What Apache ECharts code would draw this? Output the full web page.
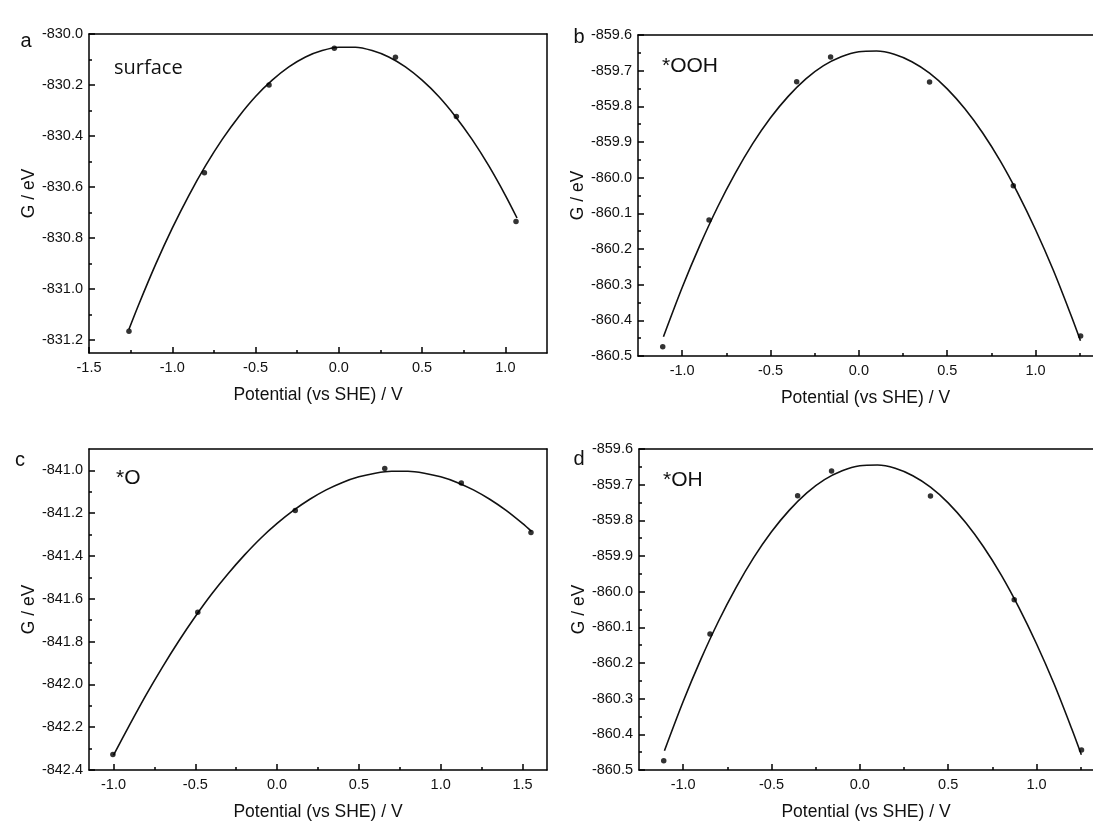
<!DOCTYPE html>
<html><head><meta charset="utf-8">
<script src="https://cdn.jsdelivr.net/npm/echarts@6/dist/echarts.min.js"></script>
<style>html,body{margin:0;padding:0;background:#fff}#c{width:1093px;height:830px}</style>
</head><body><div id="c"></div>
<script>
// ---------- Panel a : surface ----------
const surfPointsX = [-1.26, -0.807, -0.419, -0.027, 0.340, 0.706, 1.064];
const surfPointsG = [-831.165, -830.544, -830.200, -830.056, -830.091, -830.323, -830.735];
const surfFitX = [-1.26, -1.2, -1.1, -1.0, -0.9, -0.8, -0.7, -0.6, -0.5, -0.4, -0.3, -0.2, -0.1, 0.0, 0.1, 0.2, 0.3, 0.4, 0.5, 0.6, 0.7, 0.8, 0.9, 1.0, 1.07];
const surfFitG = [-831.157, -831.058, -830.903, -830.761, -830.632, -830.516, -830.413, -830.323, -830.245, -830.181, -830.129, -830.090, -830.065, -830.052, -830.052, -830.065, -830.090, -830.129, -830.181, -830.245, -830.323, -830.413, -830.516, -830.632, -830.721];
const xLabelsA = [-1.5, -1.0, -0.5, 0.0, 0.5, 1.0];
const xMinorA = [-1.25, -0.75, -0.25, 0.25, 0.75];
const yLabelsA = [-831.2, -831.0, -830.8, -830.6, -830.4, -830.2, -830.0];
const yMinorA = [-831.1, -830.9, -830.7, -830.5, -830.3, -830.1];

// ---------- Panel b : *OOH ----------
const oohPointsX = [-1.11, -0.848, -0.352, -0.16, 0.40, 0.874, 1.255];
const oohPointsG = [-860.474, -860.119, -859.731, -859.662, -859.732, -860.023, -860.444];
const oohFitX = [-1.106, -1.0, -0.9, -0.8, -0.7, -0.6, -0.5, -0.4, -0.3, -0.2, -0.1, 0.0, 0.1, 0.2, 0.3, 0.4, 0.5, 0.6, 0.7, 0.8, 0.9, 1.0, 1.1, 1.2, 1.254];
const oohFitG = [-860.446, -860.308, -860.190, -860.083, -859.988, -859.904, -859.832, -859.772, -859.723, -859.686, -859.661, -859.647, -859.645, -859.654, -859.675, -859.707, -859.751, -859.807, -859.874, -859.953, -860.044, -860.146, -860.259, -860.385, -860.457];
const xLabelsB = [-1.0, -0.5, 0.0, 0.5, 1.0];
const xMinorB = [-0.75, -0.25, 0.25, 0.75, 1.25];
const yLabelsB = [-860.5, -860.4, -860.3, -860.2, -860.1, -860.0, -859.9, -859.8, -859.7, -859.6];
const yMinorB = [-860.45, -860.35, -860.25, -860.15, -860.05, -859.95, -859.85, -859.75, -859.65];

// ---------- Panel c : *O ----------
const oPointsX = [-1.004, -0.485, 0.111, 0.658, 1.126, 1.552];
const oPointsG = [-842.327, -841.663, -841.187, -840.991, -841.059, -841.290];
const oFitX = [-1.0, -0.9, -0.8, -0.7, -0.6, -0.5, -0.4, -0.3, -0.2, -0.1, 0.0, 0.1, 0.2, 0.3, 0.4, 0.5, 0.6, 0.7, 0.8, 0.9, 1.0, 1.1, 1.2, 1.3, 1.4, 1.5, 1.555];
const oFitG = [-842.33, -842.187, -842.048, -841.918, -841.796, -841.683, -841.578, -841.483, -841.396, -841.317, -841.248, -841.187, -841.135, -841.091, -841.056, -841.030, -841.013, -841.004, -841.004, -841.013, -841.030, -841.056, -841.091, -841.135, -841.187, -841.248, -841.285];
const xLabelsC = [-1.0, -0.5, 0.0, 0.5, 1.0, 1.5];
const xMinorC = [-0.75, -0.25, 0.25, 0.75, 1.25];
const yLabelsC = [-842.4, -842.2, -842.0, -841.8, -841.6, -841.4, -841.2, -841.0];
const yMinorC = [-842.3, -842.1, -841.9, -841.7, -841.5, -841.3, -841.1];

// ---------- Panel d : *OH ----------
const ohPointsX = [-1.11, -0.848, -0.352, -0.16, 0.40, 0.874, 1.255];
const ohPointsG = [-860.474, -860.119, -859.731, -859.662, -859.732, -860.023, -860.444];
const ohFitX = [-1.106, -1.0, -0.9, -0.8, -0.7, -0.6, -0.5, -0.4, -0.3, -0.2, -0.1, 0.0, 0.1, 0.2, 0.3, 0.4, 0.5, 0.6, 0.7, 0.8, 0.9, 1.0, 1.1, 1.2, 1.254];
const ohFitG = [-860.446, -860.308, -860.190, -860.083, -859.988, -859.904, -859.832, -859.772, -859.723, -859.686, -859.661, -859.647, -859.645, -859.654, -859.675, -859.707, -859.751, -859.807, -859.874, -859.953, -860.044, -860.146, -860.259, -860.385, -860.457];
const xLabelsD = [-1.0, -0.5, 0.0, 0.5, 1.0];
const xMinorD = [-0.75, -0.25, 0.25, 0.75, 1.25];
const yLabelsD = [-860.5, -860.4, -860.3, -860.2, -860.1, -860.0, -859.9, -859.8, -859.7, -859.6];
const yMinorD = [-860.45, -860.35, -860.25, -860.15, -860.05, -859.95, -859.85, -859.75, -859.65];

const xTitle = 'Potential (vs SHE) / V';
const yTitle = 'G / eV';

const FONT = '"Liberation Sans", Arial, sans-serif';
// b and d are cut off at the right edge of the figure (no right frame line)
const panels = [
  {grid:{left:89, top:34, width:458, height:319}, xMin:-1.5, xMax:1.25, yMin:-831.25, yMax:-830.0, rightFrame:true,
   xl:xLabelsA, xm:xMinorA, yl:yLabelsA, ym:yMinorA, px:surfPointsX, pg:surfPointsG, fx:surfFitX, fg:surfFitG},
  {grid:{left:638, top:35, width:455, height:321}, xMin:-1.25, xMax:1.325, yMin:-860.5, yMax:-859.6, rightFrame:false,
   xl:xLabelsB, xm:xMinorB, yl:yLabelsB, ym:yMinorB, px:oohPointsX, pg:oohPointsG, fx:oohFitX, fg:oohFitG},
  {grid:{left:89, top:449, width:458, height:321}, xMin:-1.15, xMax:1.65, yMin:-842.4, yMax:-840.9, rightFrame:true,
   xl:xLabelsC, xm:xMinorC, yl:yLabelsC, ym:yMinorC, px:oPointsX, pg:oPointsG, fx:oFitX, fg:oFitG},
  {grid:{left:639, top:449, width:454, height:321}, xMin:-1.25, xMax:1.32, yMin:-860.5, yMax:-859.6, rightFrame:false,
   xl:xLabelsD, xm:xMinorD, yl:yLabelsD, ym:yMinorD, px:ohPointsX, pg:ohPointsG, fx:ohFitX, fg:ohFitG}
];

const grids = [], xAxes = [], yAxes = [], series = [];
const axisLineStyle = {color:'#000', width:1.5};
panels.forEach((p, i) => {
  grids.push(Object.assign({show:false}, p.grid));
  const xi = xAxes.length, yi = yAxes.length;
  xAxes.push({type:'value', gridIndex:i, min:p.xMin, max:p.xMax, position:'bottom',
    name:xTitle, nameLocation:'middle', nameGap:33,
    nameTextStyle:{fontFamily:FONT, fontSize:17.5, color:'#111'},
    axisLine:{show:true, onZero:false, lineStyle:axisLineStyle},
    axisTick:{show:true, inside:true, length:6, lineStyle:{color:'#000', width:1.5}, customValues:p.xl},
    axisLabel:{show:true, margin:7, fontFamily:FONT, fontSize:14.5, color:'#111', customValues:p.xl,
      formatter:v => Number(v).toFixed(1)},
    splitLine:{show:false}});
  xAxes.push({type:'value', gridIndex:i, min:p.xMin, max:p.xMax, position:'bottom',
    axisLine:{show:false, onZero:false},
    axisTick:{show:true, inside:true, length:3, lineStyle:{color:'#000', width:1.5}, customValues:p.xm},
    axisLabel:{show:false}, splitLine:{show:false}});
  // top frame line
  xAxes.push({type:'value', gridIndex:i, min:p.xMin, max:p.xMax, position:'top',
    axisLine:{show:true, onZero:false, lineStyle:axisLineStyle},
    axisTick:{show:false}, axisLabel:{show:false}, splitLine:{show:false}});
  yAxes.push({type:'value', gridIndex:i, min:p.yMin, max:p.yMax, position:'left',
    name:yTitle, nameLocation:'middle', nameGap:50, nameRotate:90,
    nameTextStyle:{fontFamily:FONT, fontSize:17.5, color:'#111'},
    axisLine:{show:true, onZero:false, lineStyle:axisLineStyle},
    axisTick:{show:true, inside:true, length:6, lineStyle:{color:'#000', width:1.5}, customValues:p.yl},
    axisLabel:{show:true, margin:6, fontFamily:FONT, fontSize:14.5, color:'#111', customValues:p.yl,
      formatter:v => Number(v).toFixed(1)},
    splitLine:{show:false}});
  yAxes.push({type:'value', gridIndex:i, min:p.yMin, max:p.yMax, position:'left',
    axisLine:{show:false, onZero:false},
    axisTick:{show:true, inside:true, length:3, lineStyle:{color:'#000', width:1.5}, customValues:p.ym},
    axisLabel:{show:false}, splitLine:{show:false}});
  if (p.rightFrame) {
    yAxes.push({type:'value', gridIndex:i, min:p.yMin, max:p.yMax, position:'right',
      axisLine:{show:true, onZero:false, lineStyle:axisLineStyle},
      axisTick:{show:false}, axisLabel:{show:false}, splitLine:{show:false}});
  }
  series.push({type:'line', xAxisIndex:xi, yAxisIndex:yi, data:p.fx.map((x,k)=>[x,p.fg[k]]),
    showSymbol:false, smooth:0.3, lineStyle:{color:'#111', width:1.6}, silent:true, z:2});
  series.push({type:'scatter', xAxisIndex:xi, yAxisIndex:yi, data:p.px.map((x,k)=>[x,p.pg[k]]),
    symbol:'circle', symbolSize:5.5, itemStyle:{color:'#000'}, silent:true, z:3});
});

const txt = (x, y, s, size, fam, align) => ({type:'text', x:x, y:y,
  style:{text:s, fontSize:size, fontFamily:fam, fill:'#111', textAlign:align||'left', textVerticalAlign:'middle'}});

const chart = echarts.init(document.getElementById('c'), null, {renderer:'canvas'});
chart.setOption({
  backgroundColor:'#fff',
  animation:false,
  grid:grids, xAxis:xAxes, yAxis:yAxes, series:series,
  graphic:[
    txt(26, 41, 'a', 20, FONT, 'center'),
    txt(579, 37, 'b', 20, FONT, 'center'),
    txt(20, 460, 'c', 20, FONT, 'center'),
    txt(579, 459, 'd', 20, FONT, 'center'),
    txt(114, 68, 'surface', 20, '"Open Sans", "Noto Sans", sans-serif'),
    txt(662, 66, '*OOH', 21, FONT),
    txt(116, 478, '*O', 21, FONT),
    txt(663, 480, '*OH', 21, FONT)
  ]
});
</script></body></html>
